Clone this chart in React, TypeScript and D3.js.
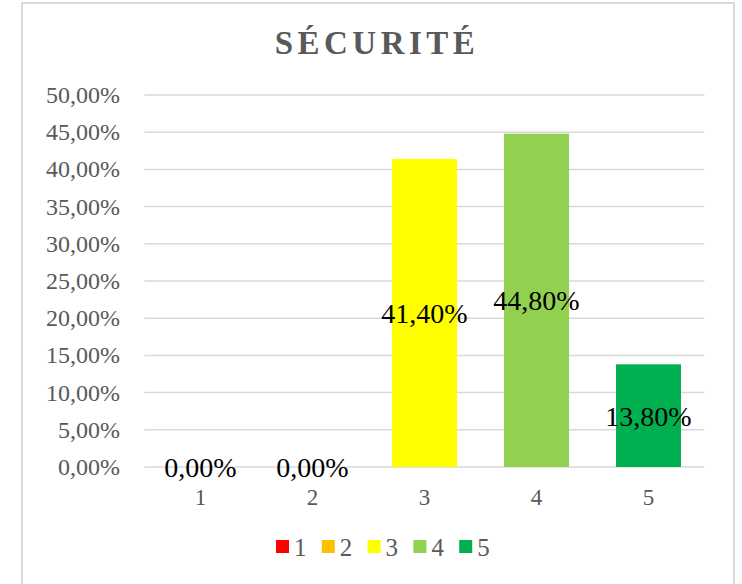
import React from "react";
import * as d3 from "d3";

// chart data
const categories = ["1", "2", "3", "4", "5"];
const values = [0, 0, 41.4, 44.8, 13.8];
const colors = ["#FF0000", "#FFC000", "#FFFF00", "#92D050", "#00B050"];
const yTicks = [0, 5, 10, 15, 20, 25, 30, 35, 40, 45, 50];
const title = "SÉCURITÉ";

const W = 742;
const H = 584;
const FONT = "'Liberation Serif', 'DejaVu Serif', serif";

const fmt = (v: number) => v.toFixed(2).replace(".", ",") + "%";

export default function App() {
  const x = d3.scaleBand().domain(categories).range([144.5, 704.5]).paddingInner(0.42).paddingOuter(0.21);
  const y = d3.scaleLinear().domain([0, 50]).range([467, 95]);

  return (
    <svg
      width={W}
      height={H}
      style={{ position: "absolute", left: 0, top: 0, background: "#fff" }}
      fontFamily={FONT}
    >
      {/* frame */}
      <rect x={22} y={3} width={712} height={H + 10} fill="#fff" stroke="#d9d9d9" strokeWidth={2} />

      <text
        x={377}
        y={54}
        textAnchor="middle"
        fontSize={33}
        fontWeight="bold"
        letterSpacing={4.5}
        fill="#595959"
      >
        {title}
      </text>

      {/* gridlines + y labels */}
      {yTicks.map((t) => (
        <g key={t}>
          <line x1={144.5} x2={704.5} y1={y(t)} y2={y(t)} stroke="#d9d9d9" strokeWidth={1.5} />
          <text x={120} y={y(t) + 8} textAnchor="end" fontSize={24} fill="#595959">
            {fmt(t)}
          </text>
        </g>
      ))}

      {/* bars */}
      {categories.map((c, i) => (
        <rect
          key={c}
          x={x(c)}
          y={y(values[i])}
          width={x.bandwidth()}
          height={y(0) - y(values[i])}
          fill={colors[i]}
        />
      ))}

      {/* data labels */}
      {categories.map((c, i) => (
        <text
          key={"l" + c}
          x={(x(c) as number) + x.bandwidth() / 2}
          y={(y(values[i]) + y(0)) / 2 + 10}
          textAnchor="middle"
          fontSize={28}
          fill="#000"
        >
          {fmt(values[i])}
        </text>
      ))}

      {/* x labels */}
      {categories.map((c) => (
        <text
          key={"x" + c}
          x={(x(c) as number) + x.bandwidth() / 2}
          y={505}
          textAnchor="middle"
          fontSize={23}
          fill="#595959"
        >
          {c}
        </text>
      ))}

      {/* legend */}
      {categories.map((c, i) => (
        <g key={"lg" + c} transform={`translate(${276 + i * 45.8},540)`}>
          <rect width={13} height={13} fill={colors[i]} />
          <text x={18} y={16} fontSize={25} fill="#595959">
            {c}
          </text>
        </g>
      ))}
    </svg>
  );
}
